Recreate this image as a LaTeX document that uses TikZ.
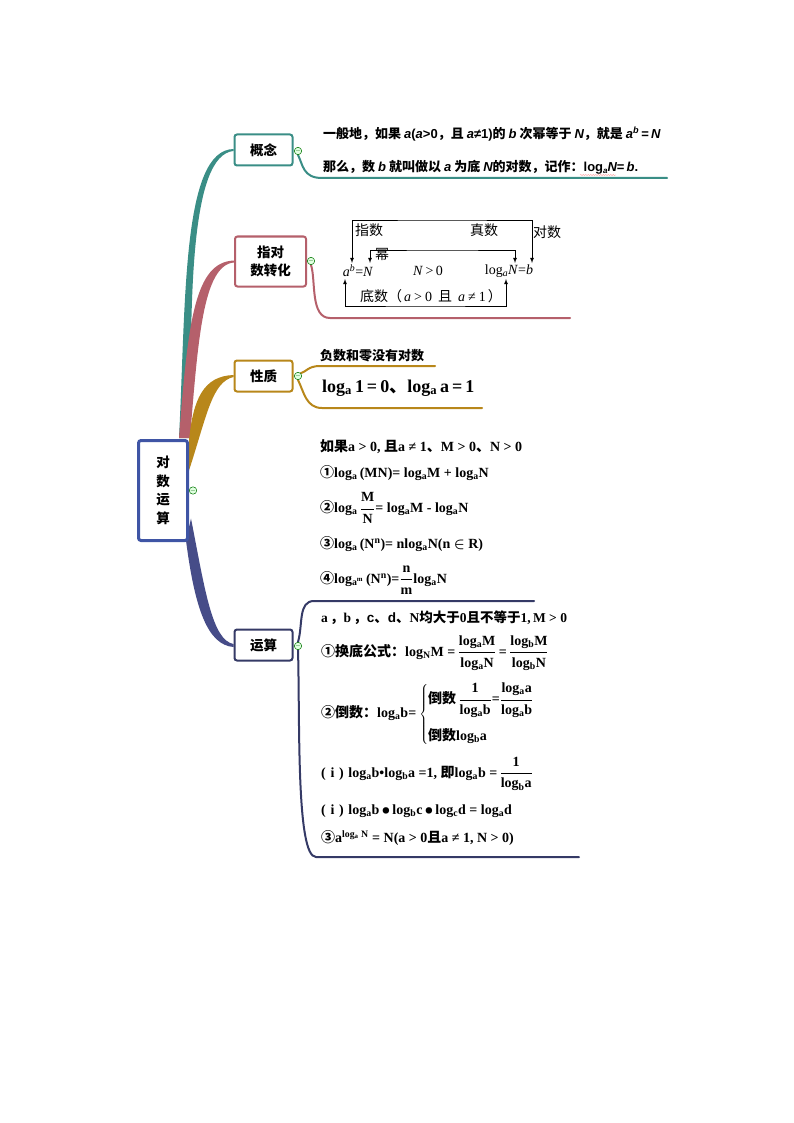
\documentclass[tikz,border=0pt]{standalone}
\usepackage{fontspec}
\setmainfont{Liberation Serif}
\setsansfont{Liberation Sans}
\newfontfamily\cjk{Noto Sans CJK SC}
\usetikzlibrary{decorations.pathmorphing,backgrounds}
\definecolor{cblue}{HTML}{3F55A5}
\definecolor{cteal}{HTML}{3A8E86}
\definecolor{crose}{HTML}{B5606B}
\definecolor{cgold}{HTML}{B8871A}
\definecolor{cnavy}{HTML}{353A66}
\definecolor{cnavyb}{HTML}{464C88}
\newcommand{\zh}[1]{{\cjk\bfseries #1}}
\newcommand{\zhl}[1]{{\cjk #1}}
\newcommand{\lgb}[1]{log\textsubscript{#1}}
\newcommand{\si}[1]{{\sffamily\bfseries\itshape #1}}
\newcommand{\fr}[2]{$\displaystyle\frac{\mbox{#1}}{\mbox{#2}}$}
\begin{document}
\begin{tikzpicture}
    [x=1pt,y=1pt,
    topic/.style={draw,line width=2pt,rounded corners=2.5pt,fill=white,align=center,
      inner sep=0pt,font=\fontsize{13.5}{18}\selectfont\cjk\bfseries},
    fold/.style={circle,draw=green!45!black,fill=green!12,line width=0.5pt,inner sep=0pt,
      minimum size=7pt,font=\fontsize{6}{6}\selectfont,text=green!35!black},
    leaf/.style={line width=2pt,line cap=round},
    line/.style={anchor=west,inner sep=0pt,font=\fontsize{14}{16}\selectfont\bfseries\boldmath},
    tag/.style={inner sep=0pt,font=\fontsize{14}{16}\selectfont},
    arr/.style={latex-latex,line width=0.8pt}]
    \useasboundingbox (0,0) rectangle (794,-1123);
    % boxes
    \node[topic,draw=cblue,line width=3pt,minimum width=49pt,minimum height=100pt] (root) at (163,-490.5)
      {对\\[0.5pt]数\\[0.5pt]运\\[0.5pt]算};
    \node[topic,draw=cteal,minimum width=58pt,minimum height=31pt] (gainian) at (263.5,-150) {概念};
    \node[topic,draw=crose,minimum width=71pt,minimum height=50pt] (zhidui) at (270.5,-261.5) {指对\\数转化};
    \node[topic,draw=cgold,minimum width=58pt,minimum height=31pt] (xingzhi) at (263.5,-376) {性质};
    \node[topic,draw=cnavy,minimum width=58pt,minimum height=31pt] (yunsuan) at (263.5,-645) {运算};
    % fold marks
    \node[fold] (f0) at (193,-490.5) {$-$};
    \node[fold] (f1) at (298,-151) {$-$};
    \node[fold] (f2) at (311,-261) {$-$};
    \node[fold] (f3) at (298,-376) {$-$};
    \node[fold] (f4) at (298,-646) {$-$};
    % tapered branches
    \begin{scope}[on background layer]
    \fill[cteal] ([xshift=16pt,yshift=1pt]root.north) .. controls (186,-300) and (182,-150) .. ([yshift=1pt]gainian.west)
      -- ([yshift=-1pt]gainian.west) .. controls (190,-155) and (190,-300) .. ([xshift=28pt,yshift=1pt]root.north) -- cycle;
    \fill[crose] ([xshift=16pt,yshift=1pt]root.north) .. controls (188,-320) and (195,-262) .. ([yshift=1pt]zhidui.west)
      -- ([yshift=-1pt]zhidui.west) .. controls (203,-265) and (198,-340) .. ([xshift=27pt,yshift=1pt]root.north) -- cycle;
    \fill[cgold] ([yshift=50pt]root.east) .. controls (193,-400) and (203,-376) .. ([yshift=1pt]xingzhi.west)
      -- ([yshift=-1pt]xingzhi.west) .. controls (212,-382) and (207,-415) .. ([yshift=20pt]root.east) -- cycle;
    \fill[cnavyb] ([yshift=-50pt,xshift=-3pt]root.east) .. controls (195,-610) and (208,-645) .. ([yshift=-2pt]yunsuan.west)
      -- ([yshift=1pt]yunsuan.west) .. controls (212,-640) and (205,-590) .. ([yshift=-28pt,xshift=2pt]root.east) -- cycle;
    % leaf lines
    \draw[leaf,cteal] (f1.south) .. controls (303,-165) and (303,-178) .. (322,-178) -- (667,-178);
    \draw[leaf,crose] (f2.south) .. controls (316,-280) and (310,-318) .. (330,-318) -- (570,-318);
    \draw[leaf,cgold] (f3.north east) .. controls (306,-372) and (308,-366) .. (320,-366) -- (435,-366);
    \draw[leaf,cgold] (f3.south) .. controls (304,-392) and (306,-408) .. (322,-408) -- (482,-408);
    \draw[leaf,cnavy] (f4.north) .. controls (303,-625) and (298,-601) .. (314,-601) -- (534,-601);
    \draw[leaf,cnavy] (f4.south) .. controls (300,-720) and (296,-857) .. (316,-857) -- (579,-857);
    \end{scope}
    % concept text
    \node[line,font=\fontsize{13}{15}\selectfont] (def1) at (323,-134)
      {\zh{一般地，如果 }\si{a}{\sffamily\bfseries(}\si{a}{\sffamily\bfseries>0}\zh{，且 }\si{a}{\sffamily\bfseries≠1)}\zh{的 }\si{b}\zh{ 次幂等于 }\si{N}\zh{，就是 }\si{a}\textsuperscript{\si{b}}{\sffamily\bfseries\,=\,}\si{N}};
    \node[line,font=\fontsize{13}{15}\selectfont] (def2) at (323,-167)
      {\zh{那么，数 }\si{b}\zh{ 就叫做以 }\si{a}\zh{ 为底 }\si{N}\zh{的对数，记作：}{\sffamily\bfseries log}\raisebox{-2pt}{\fontsize{8}{8}\selectfont\si{a}}\si{N}{\sffamily\bfseries =\,}\si{b}{\sffamily\bfseries .}};
    \draw[red!50,line width=0.3pt,decorate,decoration={snake,amplitude=0.5pt,segment length=2.5pt}] (580,-175) -- (616,-175);
    % inner diagram
    \coordinate (pa) at (352,-263);
    \coordinate (pb) at (532,-263);
    \coordinate (pc) at (370,-263);
    \coordinate (pd) at (515,-263);
    \coordinate (pe) at (345,-279);
    \coordinate (pf) at (506,-279);
    \draw[arr] (pa) |- (442,-220) -| (pb);
    \draw[arr] (pc) |- (442,-250) -| (pd);
    \draw[arr] (pe) |- (425,-306) -| (pf);
    \node[tag] (t1) at (369,-230) {\zhl{指数}};
    \node[tag] (t2) at (484,-230) {\zhl{真数}};
    \node[tag] (t3) at (547,-232) {\zhl{对数}};
    \node[tag] (t4) at (382,-254) {\zhl{幂}};
    \node[tag] (t5) at (358,-271) {\textit{a}\textsuperscript{\textit{b}}=\textit{N}};
    \node[tag] (t6) at (428,-271) {\textit{N}\,>\,0};
    \node[tag] (t7) at (509,-271) {log\textsubscript{\textit{a}}\textit{N}=\textit{b}};
    \node[tag] (t8) at (431,-296) {\zhl{底数（}\hspace{2pt}\textit{a}\hspace{3pt}>\hspace{3pt}0\hspace{6pt}\zhl{且}\hspace{6pt}\textit{a}\hspace{3pt}≠\hspace{3pt}1\hspace{2pt}\zhl{）}};
    % properties
    \node[line,font=\fontsize{13}{15}\selectfont] (p1) at (320,-356) {\zh{负数和零没有对数}};
    \node[line,font=\fontsize{18}{21}\selectfont\bfseries] (p2) at (322,-388) {\lgb{a}\,1\,=\,0\zh{、}\lgb{a}\,a\,=\,1};
    % rules
    \node[line] (r0) at (320,-447) {\zh{如果}a > 0, \zh{且}a ≠ 1\zh{、}M > 0\zh{、}N > 0};
    \node[line] (r1) at (320,-473) {\zh{①}\lgb{a}\,(MN)= \lgb{a}M + \lgb{a}N};
    \node[line] (r2) at (320,-508) {\zh{②}\lgb{a}\,\fr{M}{N}= \lgb{a}M - \lgb{a}N};
    \node[line] (r3) at (320,-544) {\zh{③}\lgb{a}\,(N\textsuperscript{n})= n\lgb{a}N(n $\in$ R)};
    \node[line] (r4) at (320,-580) {\zh{④}log\textsubscript{a\textsuperscript{m}}\,(N\textsuperscript{n})=\fr{n}{m}\lgb{a}N};
    % operations
    \node[line,font=\fontsize{13.5}{16}\selectfont\bfseries] (o0) at (321,-618) {a\,\zh{，}b\,\zh{，}{\sffamily c}\zh{、}{\sffamily d}\zh{、}N\zh{均大于}0\zh{且不等于}1,\,M > 0};
    \node[line] (o1) at (321,-653) {\zh{①换底公式：}\lgb{N}M =\,\fr{\lgb{a}M}{\lgb{a}N}\,=\,\fr{\lgb{b}M}{\lgb{b}N}};
    \node[line] (o2) at (321,-714) {\zh{②倒数：}\lgb{a}b=\hspace{3pt}$\left\{\begin{array}{@{}l@{}}\mbox{\zh{倒数}\,\fr{1}{\lgb{a}b}=\fr{\lgb{a}a}{\lgb{a}b}}\\[20pt]\mbox{\zh{倒数}\lgb{b}a}\end{array}\right.$};
    \node[line] (o3) at (321,-774) {(\,\,i\,\,)\,\,\lgb{a}b•\lgb{b}a =1, \zh{即}\lgb{a}b =\,\fr{1}{\lgb{b}a}};
    \node[line] (o4) at (321,-811) {(\,\,i\,\,)\,\,\lgb{a}b\,$\bullet$\,\lgb{b}c\,$\bullet$\,\lgb{c}d = \lgb{a}d};
    \node[line] (o5) at (321,-838) {\zh{③}a\textsuperscript{\lgb{a} N} = N(a > 0\zh{且}a ≠ 1, N > 0)};
\end{tikzpicture}
\end{document}
